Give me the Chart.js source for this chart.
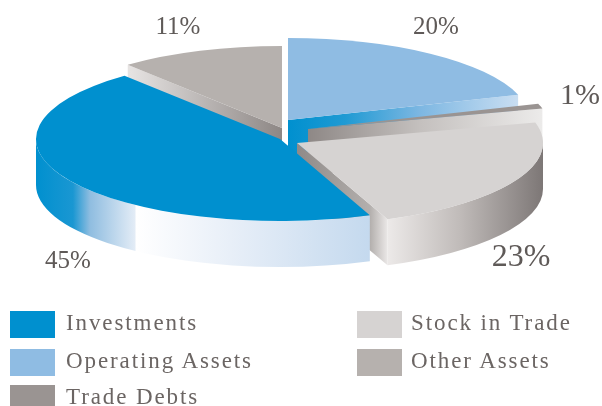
<!DOCTYPE html>
<html>
<head>
<meta charset="utf-8">
<script src="https://cdn.jsdelivr.net/npm/chart.js@4"></script>
<style>
    html, body { margin: 0; padding: 0; background: #fff; }
    #wrap { position: relative; width: 602px; height: 406px; overflow: hidden; filter: blur(0.5px); }
    #chart { position: absolute; left: 0; top: 0; }
    .legend-box { position: absolute; width: 45px; height: 27px; }
    .legend-text {
        position: absolute;
        font-family: "Liberation Serif", serif;
        font-size: 23px;
        letter-spacing: 1.9px;
        color: #6b6563;
        line-height: 27px;
        white-space: nowrap;
    }
</style>
</head>
<body>
<div id="wrap">
    <canvas id="chart" width="602" height="406"></canvas>
</div>
<script>
    // clockwise from 12 o'clock, as in the picture
    const categories = ['Operating Assets', 'Trade Debts', 'Stock in Trade', 'Investments', 'Other Assets'];
    const shares = [20, 1, 23, 45, 11];
    const colors = ['#8fbce3', '#9a9492', '#d6d3d2', '#0090cf', '#b6b1ae'];

    // legend columns, top to bottom
    const legendLeft = ['Investments', 'Operating Assets', 'Trade Debts'];
    const legendRight = ['Stock in Trade', 'Other Assets'];

    // exploded slice centres and radii on the page
    const sliceCx = [288, 308, 297, 280, 282];
    const sliceCy = [120, 129, 143, 139, 128];
    const sliceRx = [242, 242, 246, 244, 242];
    const sliceRy = 82;
    const depth = 46;

    // side wall colours, stops are page x
    const wallStops = [
        [[288, '#0090cf'], [345, '#1f9ad3'], [420, '#7db7e2'], [518, '#c9def2']],
        [[308, '#8e8886'], [420, '#c4c0be'], [543, '#ecebea']],
        [[297, '#8f8a88'], [370, '#b3afad'], [388, '#ece9e8'], [460, '#c0bbb9'], [543, '#7d7776']],
        [[36, '#0090cf'], [73, '#1a97d2'], [90, '#8fbde0'], [135, '#e3ecf6'], [136, '#ffffff'], [230, '#e8eff8'], [370, '#c4d9ee']],
        [[130, '#e6e3e2'], [282, '#8d8785']]
    ];

    // back to front, stock top goes last so its edge wall stays under the blue
    const paintOrder = [
        [4, 'wall'], [4, 'top'],
        [0, 'wall'], [0, 'top'],
        [1, 'wall'], [1, 'top'],
        [2, 'wall'],
        [3, 'wall'], [3, 'top'],
        [2, 'top']
    ];

    const percentLabels = [
        {x: 436, y: 27, size: 25},
        {x: 580, y: 96, size: 30},
        {x: 521, y: 258, size: 32},
        {x: 68, y: 261, size: 25},
        {x: 178, y: 27, size: 25}
    ];

    function wallGradient(ctx, i) {
        const gradient = ctx.createLinearGradient(0, 0, 602, 0);
        wallStops[i].forEach(stop => gradient.addColorStop(stop[0] / 602, stop[1]));
        return gradient;
    }

    function drawRadialWall(ctx, i, angle) {
        const cx = sliceCx[i];
        const cy = sliceCy[i];
        const px = cx + Math.cos(angle) * sliceRx[i];
        const py = cy + Math.sin(angle) * sliceRy;
        ctx.beginPath();
        ctx.moveTo(cx, cy);
        ctx.lineTo(px, py);
        ctx.lineTo(px, py + depth);
        ctx.lineTo(cx, cy + depth);
        ctx.closePath();
        ctx.fill();
    }

    function drawWall(ctx, arc, i) {
        const start = arc.startAngle;
        const end = arc.endAngle;
        ctx.fillStyle = wallGradient(ctx, i);

        if (Math.cos(start) < -0.001) {
            drawRadialWall(ctx, i, start);
        }
        if (Math.cos(end) > 0.001) {
            drawRadialWall(ctx, i, end);
        }

        const from = Math.max(start, 0);
        const to = Math.min(end, Math.PI);
        if (to > from) {
            ctx.beginPath();
            ctx.ellipse(sliceCx[i], sliceCy[i], sliceRx[i], sliceRy, 0, from, to);
            ctx.ellipse(sliceCx[i], sliceCy[i] + depth, sliceRx[i], sliceRy, 0, to, from, true);
            ctx.closePath();
            ctx.fill();
        }
    }

    function drawTop(ctx, arc, i) {
        ctx.save();
        ctx.translate(sliceCx[i], sliceCy[i]);
        ctx.scale(sliceRx[i] / arc.outerRadius, sliceRy / arc.outerRadius);
        ctx.translate(-arc.x, -arc.y);
        arc.draw(ctx);
        ctx.restore();
    }

    const pie3d = {
        id: 'pie3d',
        beforeDatasetsDraw(chart) {
            const ctx = chart.ctx;
            const arcs = chart.getDatasetMeta(0).data;
            paintOrder.forEach(step => {
                const i = step[0];
                if (step[1] === 'wall') {
                    drawWall(ctx, arcs[i], i);
                } else {
                    drawTop(ctx, arcs[i], i);
                }
            });

            ctx.save();
            ctx.fillStyle = '#5f5a58';
            ctx.textAlign = 'center';
            ctx.textBaseline = 'middle';
            shares.forEach((share, i) => {
                const label = percentLabels[i];
                ctx.font = label.size + 'px "Liberation Serif", serif';
                ctx.fillText(share + '%', label.x, label.y);
            });
            ctx.restore();
            return false;
        }
    };

    new Chart(document.getElementById('chart').getContext('2d'), {
        type: 'pie',
        data: {
            labels: categories,
            datasets: [{
                data: shares,
                backgroundColor: colors,
                borderWidth: 0
            }]
        },
        options: {
            responsive: false,
            animation: false,
            events: [],
            layout: {padding: 0},
            plugins: {
                legend: {display: false},
                tooltip: {enabled: false}
            }
        },
        plugins: [pie3d]
    });

    function addLegendColumn(names, boxLeft, textLeft) {
        const wrap = document.getElementById('wrap');
        const rowTops = [311, 349, 385];
        names.forEach((name, row) => {
            const box = document.createElement('div');
            box.className = 'legend-box';
            box.style.left = boxLeft + 'px';
            box.style.top = rowTops[row] + 'px';
            box.style.background = colors[categories.indexOf(name)];
            wrap.appendChild(box);

            const text = document.createElement('div');
            text.className = 'legend-text';
            text.style.left = textLeft + 'px';
            text.style.top = (rowTops[row] - 2) + 'px';
            text.innerText = name;
            wrap.appendChild(text);
        });
    }

    addLegendColumn(legendLeft, 10, 66);
    addLegendColumn(legendRight, 357, 411);
</script>
</body>
</html>
